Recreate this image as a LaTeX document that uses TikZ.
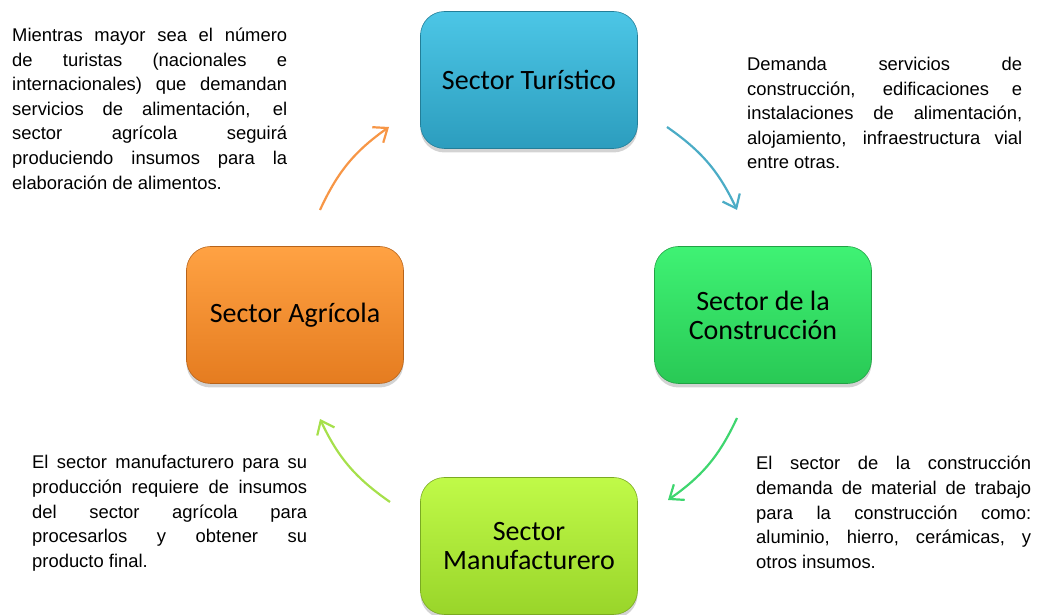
\documentclass[tikz,border=0pt]{standalone}
\usepackage{fontspec}
\setmainfont{Liberation Sans}
\newfontfamily\boxfont{Carlito}
\usetikzlibrary{arrows.meta,shadows,positioning}
\definecolor{turTop}{HTML}{4CC6E6}
\definecolor{turBot}{HTML}{2C9DBE}
\definecolor{conTop}{HTML}{3FF274}
\definecolor{conBot}{HTML}{29C955}
\definecolor{agrTop}{HTML}{FFA243}
\definecolor{agrBot}{HTML}{E57C20}
\definecolor{manTop}{HTML}{C0FA48}
\definecolor{manBot}{HTML}{99D52A}
\definecolor{flowOrange}{HTML}{F79646}
\definecolor{flowBlue}{HTML}{4BACC6}
\definecolor{flowGreen}{HTML}{3FD66F}
\definecolor{flowLime}{HTML}{A6E04B}

\begin{document}
\begin{tikzpicture}[x=1pt,y=1pt,
    sector/.style={rounded corners=24pt, minimum width=217pt, minimum height=137pt,
        align=center, font=\boxfont\fontsize{28}{29}\selectfont,
        drop shadow={opacity=0.35, shadow xshift=0pt, shadow yshift=-4pt}},
    note/.style={text width=275pt, align=justify, inner sep=0pt, anchor=base west,
        font=\fontsize{18.4}{24.6}\selectfont},
    flow/.style={line width=2.2pt, -{Straight Barb[length=12pt,width=19pt]}}]
    \useasboundingbox (0,0) rectangle (1037,615);

    % the four sectors
    \node[sector, top color=turTop, bottom color=turBot, draw=turBot!80!black, line width=0.6pt]
        (tur) at (529,535) {Sector Turístico};
    \node[sector, top color=conTop, bottom color=conBot, draw=conBot!80!black, line width=0.6pt]
        (con) at (763,300) {Sector de la\\Construcción};
    \node[sector, top color=agrTop, bottom color=agrBot, draw=agrBot!80!black, line width=0.6pt]
        (agr) at (295,300) {Sector Agrícola};
    \node[sector, top color=manTop, bottom color=manBot, draw=manBot!80!black, line width=0.6pt]
        (man) at (529,69) {Sector\\Manufacturero};

    % texts
    \node[note] (noteAgr) at (12,573.5) {Mientras mayor sea el número\linebreak
        de turistas (nacionales e\linebreak
        internacionales) que demandan\linebreak
        servicios de alimentación, el\linebreak
        sector agrícola seguirá\linebreak
        produciendo insumos para la\linebreak
        elaboración de alimentos.};
    \node[note] (noteTur) at (747,544.5) {Demanda servicios de\linebreak
        construcción, edificaciones e\linebreak
        instalaciones de alimentación,\linebreak
        alojamiento, infraestructura vial\linebreak
        entre otras.};
    \node[note] (noteCon) at (756,145) {El sector de la construcción\linebreak
        demanda de material de trabajo\linebreak
        para la construcción como:\linebreak
        aluminio, hierro, cerámicas, y\linebreak
        otros insumos.};
    \node[note] (noteMan) at (32,146) {El sector manufacturero para su\linebreak
        producción requiere de insumos\linebreak
        del sector agrícola para\linebreak
        procesarlos y obtener su\linebreak
        producto final.};

    % arrow ends
    \coordinate (agrOut) at (320,405);
    \coordinate (turIn) at (389,488);
    \coordinate (turOut) at (667,488);
    \coordinate (conIn) at (737,405);
    \coordinate (conOut) at (737,197);
    \coordinate (manIn) at (668,115);
    \coordinate (manOut) at (390,113);
    \coordinate (agrIn) at (320,196);

    \draw[flow, flowOrange] (agrOut) to[bend left=15] (turIn);
    \draw[flow, flowBlue] (turOut) to[bend left=15] (conIn);
    \draw[flow, flowGreen] (conOut) to[bend left=15] (manIn);
    \draw[flow, flowLime] (manOut) to[bend left=15] (agrIn);
\end{tikzpicture}
\end{document}
